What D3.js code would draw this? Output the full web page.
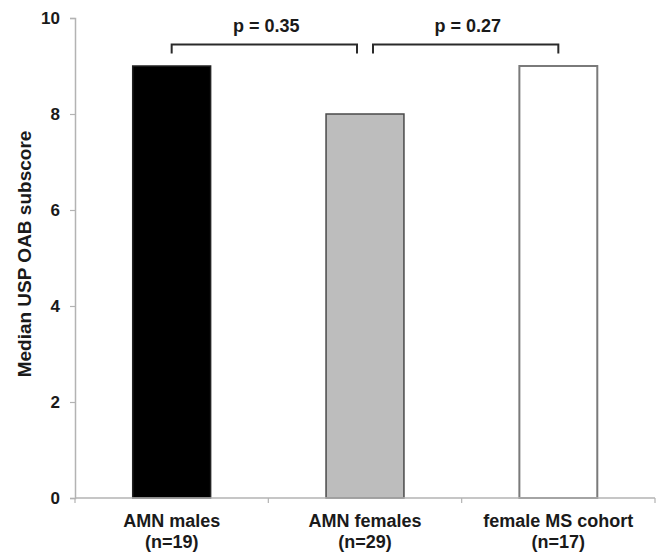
<!DOCTYPE html>
<html>
<head>
<meta charset="utf-8">
<script src="https://cdn.jsdelivr.net/npm/d3@7"></script>
<style>
  html, body { margin: 0; padding: 0; background: #fff; }
  svg { display: block; }
  text { font-family: "Liberation Sans", Arial, sans-serif; font-weight: bold; fill: #1a1a1a; }
</style>
</head>
<body>
<svg id="chart" width="659" height="553"></svg>
<script>
// ---- data ----
const categories = ["AMN males", "AMN females", "female MS cohort"];
const sampleSizes = ["(n=19)", "(n=29)", "(n=17)"];
const medianScores = [9, 8, 9];
const yTicks = [0, 2, 4, 6, 8, 10];
const comparisons = [
  { from: 0, to: 1, label: "p = 0.35" },
  { from: 1, to: 2, label: "p = 0.27" }
];

// ---- styles ----
const barFills = ["#000000", "#bdbdbd", "#ffffff"];
const barStrokes = ["#222222", "#4a4a4a", "#7a7a7a"];

(function () {
const svg = d3.select("#chart");
const plotLeft = 75, plotRight = 655, plotTop = 18, plotBottom = 498;

const x = d3.scaleBand()
  .domain(categories)
  .range([plotLeft, plotRight])
  .paddingInner(0.597)
  .paddingOuter(0.2985);

const y = d3.scaleLinear().domain([0, 10]).range([plotBottom, plotTop]);

// y axis
const yAxis = svg.append("g")
  .attr("transform", `translate(${plotLeft},0)`)
  .call(d3.axisLeft(y).tickValues(yTicks).tickSize(5).tickPadding(10).tickFormat(d3.format("d")));
yAxis.select(".domain").attr("stroke", "#b3b3b3").attr("stroke-width", 1.5);
yAxis.selectAll(".tick line").attr("stroke", "#b3b3b3").attr("stroke-width", 1.2);
yAxis.selectAll(".tick text").attr("font-size", 17).attr("fill", "#1a1a1a")
  .attr("font-family", "'Liberation Sans', Arial, sans-serif").attr("font-weight", "bold");

// x axis ticks at band boundaries
const step = x.step();
const boundaries = [plotLeft].concat(categories.map(c => x(c) + x.bandwidth() / 2 + step / 2));
svg.selectAll(".xtick").data(boundaries).enter().append("line")
  .attr("x1", d => d).attr("x2", d => d)
  .attr("y1", y(0)).attr("y2", y(0) + 5)
  .attr("stroke", "#b3b3b3").attr("stroke-width", 1.2);

// bars
svg.selectAll(".bar").data(categories).enter().append("rect")
  .attr("x", d => x(d))
  .attr("y", (d, i) => y(medianScores[i]))
  .attr("width", x.bandwidth())
  .attr("height", (d, i) => y(0) - y(medianScores[i]))
  .attr("fill", (d, i) => barFills[i])
  .attr("stroke", (d, i) => barStrokes[i])
  .attr("stroke-width", (d, i) => i === 2 ? 2 : 1.5);

// baseline over bars
svg.append("line")
  .attr("x1", plotLeft).attr("x2", plotRight)
  .attr("y1", y(0)).attr("y2", y(0))
  .attr("stroke", "#b3b3b3").attr("stroke-width", 1.5);

// category labels
const labels = svg.selectAll(".cat").data(categories).enter().append("text")
  .attr("text-anchor", "middle")
  .attr("font-size", 18);
labels.append("tspan").attr("x", d => x(d) + x.bandwidth() / 2).attr("y", 527).text(d => d);
labels.append("tspan").attr("x", d => x(d) + x.bandwidth() / 2).attr("y", 548).text((d, i) => sampleSizes[i]);

// y axis title
svg.append("text")
  .attr("transform", `translate(31,254) rotate(-90)`)
  .attr("text-anchor", "middle")
  .attr("font-size", 19)
  .text("Median USP OAB subscore");

// comparison brackets
const cx = i => x(categories[i]) + x.bandwidth() / 2;
const gap = 8;
const bracketY = y(9.45), legY = y(9.26);
comparisons.forEach((c, k) => {
  const x1 = cx(c.from) + (k > 0 ? gap : 0);
  const x2 = cx(c.to) - (k === 0 ? gap : 0);
  svg.append("path")
    .attr("d", `M${x1},${legY}V${bracketY}H${x2}V${legY}`)
    .attr("fill", "none")
    .attr("stroke", "#2a2a2a")
    .attr("stroke-width", 2);
  svg.append("text")
    .attr("x", (x1 + x2) / 2 + 2)
    .attr("y", 32)
    .attr("text-anchor", "middle")
    .attr("font-size", 18)
    .text(c.label);
});
})();
</script>
</body>
</html>
